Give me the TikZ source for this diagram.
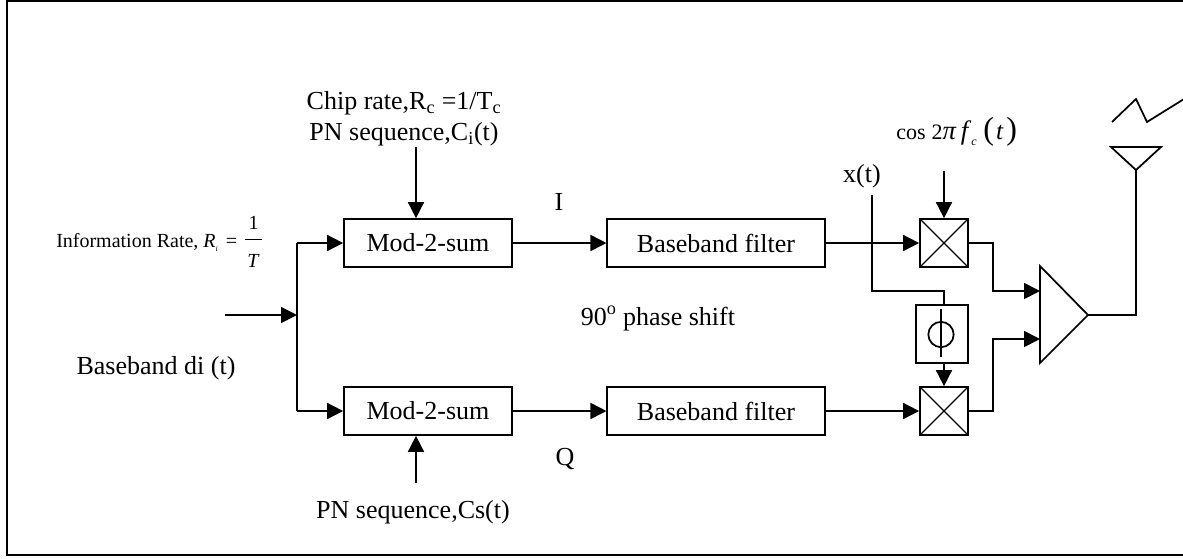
\documentclass[tikz,border=0pt]{standalone}
\usepackage{fontspec}
\setmainfont{Liberation Serif}
\usetikzlibrary{arrows.meta}
\begin{document}
\begin{tikzpicture}[
        x=0.75pt, y=-0.75pt,
        wire/.style={line width=1.3pt, line join=miter},
        sigArrow/.style={wire, -{Triangle[length=12pt, width=12pt]}},
        bigText/.style={anchor=base, inner sep=0pt, font=\fontsize{19.5}{23}\selectfont},
        blockNode/.style={rectangle, draw, wire, inner sep=0pt, font=\fontsize{19.5}{23}\selectfont},
        modNode/.style={blockNode, minimum width=126pt, minimum height=36pt},
        filterNode/.style={blockNode, minimum width=163pt, minimum height=36pt},
        mixerNode/.style={rectangle, draw, wire, minimum size=36pt, inner sep=0pt,
            path picture={
                \draw[line width=1pt] (path picture bounding box.north west) -- (path picture bounding box.south east);
                \draw[line width=1pt] (path picture bounding box.south west) -- (path picture bounding box.north east);
            }}
    ]
        \useasboundingbox (0,0) rectangle (1183,558);

        % Frame
        \draw[line width=1.6pt] (1190,1) -- (7,1) -- (7,555) -- (1190,555);

        % Blocks
        \node[modNode] (modI) at (428,243) {Mod-2-sum};
        \node[modNode] (modQ) at (428,411) {Mod-2-sum};
        \node[filterNode] (filterI) at (716,243) {Baseband filter};
        \node[filterNode] (filterQ) at (716,411) {Baseband filter};
        \node[mixerNode] (mixI) at (944,243) {};
        \node[mixerNode] (mixQ) at (944,411) {};
        \node[rectangle, draw, wire, minimum width=39pt, minimum height=43.5pt] (phase) at (942,334) {};
        \node[circle, draw, wire, minimum size=19pt, inner sep=0pt] (phi) at (941,334.5) {};
        \draw[wire] (phi.north) ++(0,-12) -- ++(0,48);

        % Amplifier and antenna
        \coordinate (ampTop) at (1040,266);
        \coordinate (ampBottom) at (1040,363);
        \coordinate (ampOut) at (1088,315);
        \coordinate (ampInI) at (1040,291);
        \coordinate (ampInQ) at (1040,339);
        \coordinate (antTip) at (1136,170);
        \draw[wire] (ampTop) -- (ampOut) -- (ampBottom) -- cycle;
        \draw[wire] (1111,147) -- (1161,147) -- (antTip) -- cycle;
        \draw[wire] (1112,122) -- (1136,99) -- (1147,122) -- (1184,99);

        % Free ends
        \coordinate (input) at (225,315);
        \coordinate (split) at (297,315);
        \coordinate (chipIn) at (416,147);
        \coordinate (chipQIn) at (416,483);
        \coordinate (carrierIn) at (944,171);
        \coordinate (xtTop) at (872,195);
        \coordinate (xtBend) at (872,291);

        % Edges
        \draw[sigArrow] (input) -- (split);
        \draw[wire] (modI.west -| split) -- (modQ.west -| split);
        \draw[sigArrow] (modI.west -| split) -- (modI.west);
        \draw[sigArrow] (modQ.west -| split) -- (modQ.west);
        \draw[sigArrow] (chipIn) -- (modI.north -| chipIn);
        \draw[sigArrow] (chipQIn) -- (modQ.south -| chipQIn);
        \draw[sigArrow] (modI) -- (filterI);
        \draw[sigArrow] (modQ) -- (filterQ);
        \draw[sigArrow] (filterI) -- (mixI);
        \draw[sigArrow] (filterQ) -- (mixQ);
        \draw[sigArrow] (carrierIn) -- (mixI);
        \draw[wire] (xtTop) -- (xtBend) -- (xtBend -| mixI) -- (phase.north -| mixI);
        \draw[sigArrow] (phase.south -| mixI) -- (mixQ);
        \draw[sigArrow] (mixI.east) -- ++(24,0) |- (ampInI);
        \draw[sigArrow] (mixQ.east) -- ++(24,0) |- (ampInQ);
        \draw[wire] (ampOut) -| (antTip);

        % Labels
        \node[bigText] (chipLabel) at (404,109) {Chip rate,R\textsubscript{c} =1/T\textsubscript{c}};
        \node[bigText] (pnILabel) at (404,140) {PN sequence,C\textsubscript{i}(t)};
        \node[bigText] (pnQLabel) at (413,518) {PN sequence,Cs(t)};
        \node[bigText] (basebandLabel) at (156,374) {Baseband di (t)};
        \node[bigText] (iLabel) at (559,210) {I};
        \node[bigText] (qLabel) at (565,465) {Q};
        \node[bigText] (shiftLabel) at (658,325) {90\textsuperscript{o} phase shift};
        \node[bigText] (xtLabel) at (862,182) {x(t)};
        \node[anchor=base west, inner sep=0pt, font=\fontsize{15}{18}\selectfont] (rateLabel) at (56,247)
            {Information Rate, \textit{R}\raisebox{-3pt}{\fontsize{6}{7}\selectfont\textit{i}}\hspace{6pt}=\hspace{5pt}\raisebox{2pt}{$\displaystyle\frac{\mbox{1}\rule[-6pt]{0pt}{6pt}}{\rule{0pt}{19.5pt}\mbox{\hspace{1.5pt}\textit{T}\hspace{1.5pt}}}$}};
        \node[anchor=base west, inner sep=0pt, font=\fontsize{16.5}{20}\selectfont] (carrierLabel) at (896,139)
            {cos\hspace{4.5pt}2{\fontsize{20}{24}\selectfont\textit{π}\,\textit{f}}\raisebox{-5pt}{\fontsize{9}{10}\selectfont\textit{c}}\hspace{5pt}{\fontsize{24}{28}\selectfont(}\hspace{1.5pt}{\fontsize{19}{24}\selectfont\textit{t}}\hspace{2pt}{\fontsize{24}{28}\selectfont)}};
    \end{tikzpicture}
\end{document}
